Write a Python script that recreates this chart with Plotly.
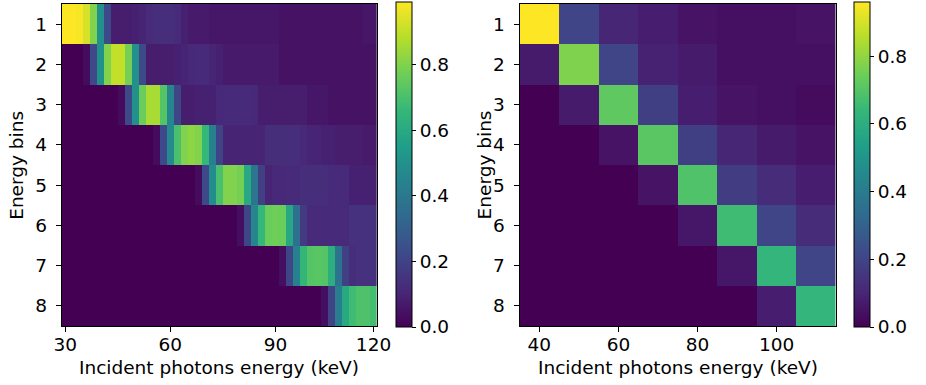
import plotly.graph_objects as go

# ---------------- data ----------------
energy_bins = [1, 2, 3, 4, 5, 6, 7, 8]

# Left panel: 45 incident-energy columns (30 ... 120 keV)
left_columns = list(range(45))
left_tickvals = [0, 15, 30, 44]
left_ticktext = ["30", "60", "90", "120"]

bin1 = [0.99, 0.99, 0.98, 0.93, 0.80, 0.50, 0.22, 0.08, 0.08, 0.08, 0.09, 0.10,
        0.12, 0.13, 0.13, 0.13, 0.12, 0.09, 0.07, 0.07, 0.07, 0.06, 0.06, 0.06,
        0.06, 0.06, 0.06, 0.06, 0.06, 0.06, 0.06, 0.05, 0.05, 0.05, 0.05, 0.05,
        0.05, 0.05, 0.05, 0.05, 0.05, 0.05, 0.05, 0.06, 0.06]
bin2 = [0.00, 0.00, 0.00, 0.03, 0.22, 0.50, 0.80, 0.90, 0.90, 0.78, 0.50, 0.22,
        0.08, 0.08, 0.08, 0.08, 0.09, 0.10, 0.11, 0.12, 0.12, 0.10, 0.09, 0.07,
        0.07, 0.07, 0.07, 0.07, 0.07, 0.07, 0.07, 0.05, 0.05, 0.05, 0.05, 0.05,
        0.05, 0.05, 0.05, 0.05, 0.05, 0.05, 0.05, 0.05, 0.05]
bin3 = [0.00, 0.00, 0.00, 0.00, 0.00, 0.00, 0.00, 0.00, 0.03, 0.22, 0.50, 0.76,
        0.86, 0.86, 0.72, 0.46, 0.21, 0.08, 0.08, 0.09, 0.09, 0.09, 0.11, 0.12,
        0.12, 0.12, 0.12, 0.11, 0.08, 0.08, 0.08, 0.08, 0.08, 0.08, 0.08, 0.06,
        0.06, 0.06, 0.05, 0.05, 0.05, 0.05, 0.05, 0.05, 0.05]
bin4 = [0.00, 0.00, 0.00, 0.00, 0.00, 0.00, 0.00, 0.00, 0.00, 0.00, 0.00, 0.00,
        0.00, 0.03, 0.22, 0.47, 0.70, 0.80, 0.82, 0.80, 0.66, 0.43, 0.20, 0.10,
        0.10, 0.10, 0.10, 0.10, 0.10, 0.13, 0.13, 0.13, 0.13, 0.13, 0.11, 0.10,
        0.10, 0.09, 0.09, 0.08, 0.08, 0.08, 0.08, 0.07, 0.07]
bin5 = [0.00, 0.00, 0.00, 0.00, 0.00, 0.00, 0.00, 0.00, 0.00, 0.00, 0.00, 0.00,
        0.00, 0.00, 0.00, 0.00, 0.00, 0.00, 0.00, 0.03, 0.22, 0.48, 0.70, 0.80,
        0.80, 0.78, 0.60, 0.39, 0.19, 0.10, 0.11, 0.11, 0.12, 0.12, 0.13, 0.13,
        0.13, 0.13, 0.12, 0.12, 0.12, 0.09, 0.09, 0.09, 0.09]
bin6 = [0.00, 0.00, 0.00, 0.00, 0.00, 0.00, 0.00, 0.00, 0.00, 0.00, 0.00, 0.00,
        0.00, 0.00, 0.00, 0.00, 0.00, 0.00, 0.00, 0.00, 0.00, 0.00, 0.00, 0.00,
        0.00, 0.04, 0.21, 0.46, 0.66, 0.76, 0.77, 0.76, 0.59, 0.37, 0.17, 0.12,
        0.12, 0.12, 0.12, 0.12, 0.12, 0.14, 0.14, 0.14, 0.14]
bin7 = [0.00, 0.00, 0.00, 0.00, 0.00, 0.00, 0.00, 0.00, 0.00, 0.00, 0.00, 0.00,
        0.00, 0.00, 0.00, 0.00, 0.00, 0.00, 0.00, 0.00, 0.00, 0.00, 0.00, 0.00,
        0.00, 0.00, 0.00, 0.00, 0.00, 0.00, 0.00, 0.04, 0.21, 0.43, 0.65, 0.72,
        0.73, 0.72, 0.62, 0.38, 0.19, 0.13, 0.14, 0.14, 0.14]
bin8 = [0.00, 0.00, 0.00, 0.00, 0.00, 0.00, 0.00, 0.00, 0.00, 0.00, 0.00, 0.00,
        0.00, 0.00, 0.00, 0.00, 0.00, 0.00, 0.00, 0.00, 0.00, 0.00, 0.00, 0.00,
        0.00, 0.00, 0.00, 0.00, 0.00, 0.00, 0.00, 0.00, 0.00, 0.00, 0.00, 0.00,
        0.00, 0.04, 0.20, 0.42, 0.60, 0.68, 0.71, 0.71, 0.69]

# Right panel: 8 incident-energy columns of 10 keV
right_energy = [40, 50, 60, 70, 80, 90, 100, 110]
rbin1 = [0.96, 0.20, 0.10, 0.08, 0.05, 0.04, 0.04, 0.05]
rbin2 = [0.07, 0.77, 0.20, 0.09, 0.07, 0.04, 0.04, 0.04]
rbin3 = [0.00, 0.07, 0.72, 0.18, 0.08, 0.05, 0.04, 0.03]
rbin4 = [0.00, 0.00, 0.05, 0.71, 0.18, 0.10, 0.07, 0.05]
rbin5 = [0.00, 0.00, 0.00, 0.05, 0.69, 0.17, 0.12, 0.08]
rbin6 = [0.00, 0.00, 0.00, 0.00, 0.06, 0.66, 0.20, 0.12]
rbin7 = [0.00, 0.00, 0.00, 0.00, 0.00, 0.06, 0.63, 0.20]
rbin8 = [0.00, 0.00, 0.00, 0.00, 0.00, 0.00, 0.08, 0.63]

cbar_ticks = [0.0, 0.2, 0.4, 0.6, 0.8]
x_title = "Incident photons energy (keV)"
y_title = "Energy bins"

# ---------------- figure ----------------
W, H = 926, 385
FONT = dict(family="DejaVu Sans", size=18.5, color="black")

left_z = [bin1, bin2, bin3, bin4, bin5, bin6, bin7, bin8]
right_z = [rbin1, rbin2, rbin3, rbin4, rbin5, rbin6, rbin7, rbin8]

def cbar(x_px):
    return dict(
        x=x_px / W, xanchor="left",
        y=1 - (2 + 327) / 2 / H, yanchor="middle",
        len=325 / H, lenmode="fraction",
        thickness=16, thicknessmode="pixels",
        outlinewidth=1, outlinecolor="black",
        tickvals=cbar_ticks, ticktext=[f"{v:.1f}" for v in cbar_ticks],
        ticks="outside", ticklen=4, tickwidth=1, tickcolor="black",
        tickfont=FONT, xpad=0, ypad=0,
    )

fig = go.Figure()
fig.add_trace(go.Heatmap(
    z=left_z, x=left_columns, y=energy_bins, colorscale="Viridis",
    zmin=0, colorbar=cbar(397), xaxis="x", yaxis="y", hoverinfo="skip"))
fig.add_trace(go.Heatmap(
    z=right_z, x=right_energy, y=energy_bins, colorscale="Viridis",
    zmin=0, colorbar=cbar(867), xaxis="x2", yaxis="y2", hoverinfo="skip"))

y_dom = [1 - 326 / H, 1 - 4 / H]
axis_common = dict(showline=True, linecolor="black", linewidth=1, mirror=True,
                   ticks="outside", ticklen=5, tickwidth=1, tickcolor="black",
                   showgrid=False, zeroline=False, tickfont=FONT)

fig.update_layout(
    width=W, height=H,
    margin=dict(l=0, r=0, t=0, b=0),
    paper_bgcolor="white", plot_bgcolor="white",
    font=FONT,
    xaxis=dict(domain=[55 / W, 378 / W], range=[-0.5, 44.5],
               tickvals=left_tickvals, ticktext=left_ticktext,
               ticklabelstandoff=-3, anchor="y", **axis_common),
    yaxis=dict(domain=y_dom, range=[8.5, 0.5], tickvals=energy_bins,
               ticklabelstandoff=5, anchor="x", **axis_common),
    xaxis2=dict(domain=[524 / W, 848 / W], range=[35, 115],
                tickvals=[40, 60, 80, 100], ticklabelstandoff=-3,
                anchor="y2", **axis_common),
    yaxis2=dict(domain=y_dom, range=[8.5, 0.5], tickvals=energy_bins,
                ticklabelstandoff=5, anchor="x2", **axis_common),
)

y_mid = 1 - 165 / H
for xc, yt in [((55 + 378) / 2, 8), ((524 + 848) / 2, 488)]:
    fig.add_annotation(text=x_title, x=xc / W, y=1 - 367 / H, xref="paper", yref="paper",
                       xanchor="center", yanchor="middle", showarrow=False, font=FONT)
    fig.add_annotation(text=y_title, x=yt / W, y=y_mid, xref="paper", yref="paper",
                       xanchor="center", yanchor="middle", showarrow=False,
                       textangle=-90, font=FONT)

fig.write_html("out.html")
